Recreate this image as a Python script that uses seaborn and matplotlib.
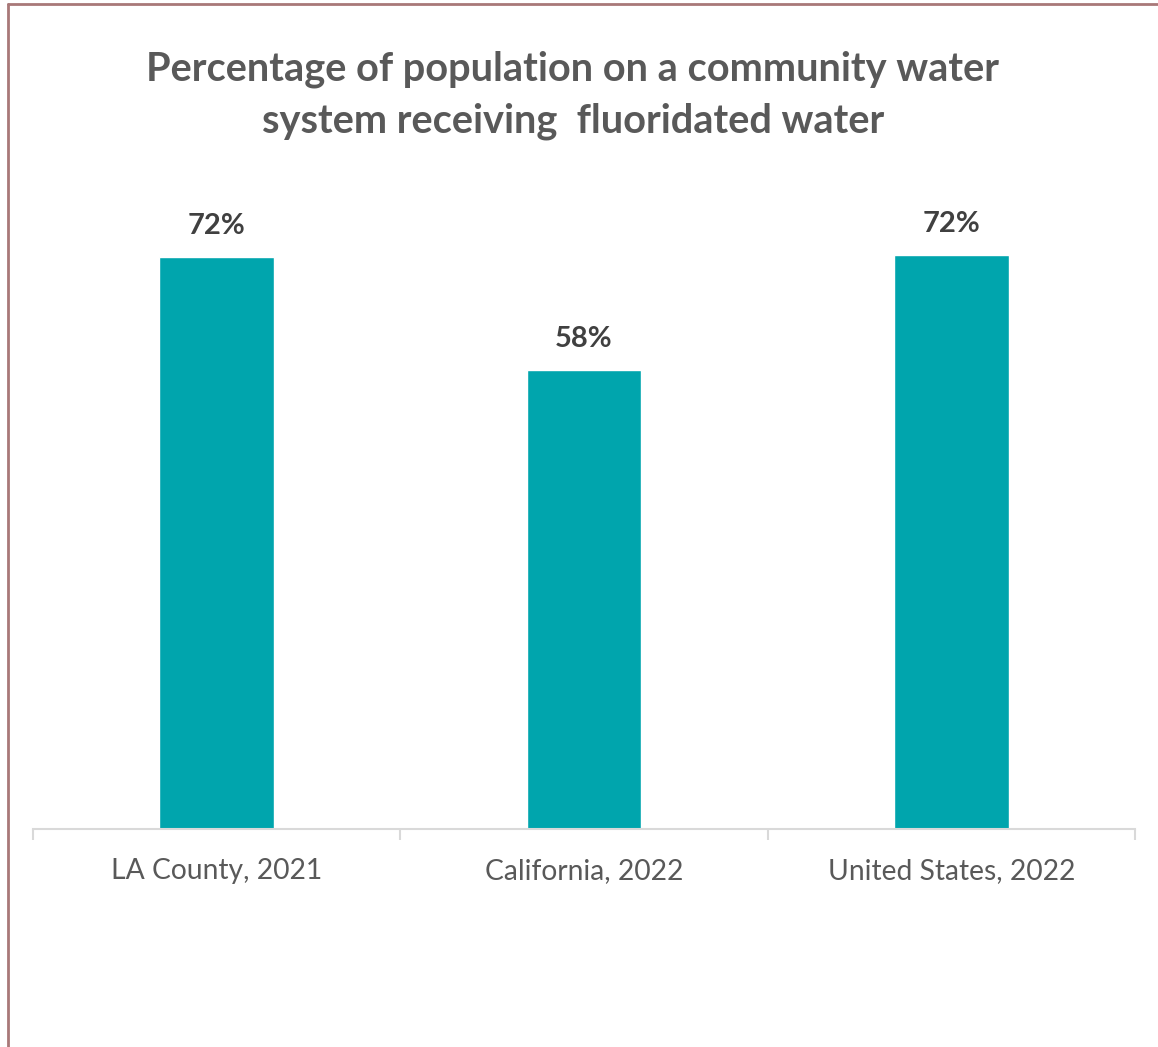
import matplotlib
matplotlib.use("agg")
import matplotlib.pyplot as plt
import pandas as pd
import seaborn as sns

# data
places = ["LA County, 2021", "California, 2022", "United States, 2022"]
pct = [71.8, 57.6, 72.1]
pct_labels = ["72%", "58%", "72%"]

TEAL = "#00a5ad"
TITLE_GREY = "#595959"
LABEL_GREY = "#404040"
AXIS_GREY = "#d9d9d9"
BORDER = "#a87878"

sns.set_theme(style="white")
plt.rcParams["font.family"] = ["Lato", "DejaVu Sans"]

df = pd.DataFrame({"place": places, "pct": pct})

fig = plt.figure(figsize=(11.58, 10.47), dpi=100)
ax = fig.add_axes([33 / 1158, 1 - 829 / 1047, (1135 - 33) / 1158, 637 / 1047])
sns.barplot(df, x="place", y="pct", color=TEAL, saturation=1, width=0.313, ax=ax)
ax.set_ylim(0, 80)
ax.set_xlim(-0.5, 2.5)

for i, (v, lab) in enumerate(zip(pct, pct_labels)):
    ax.annotate(lab, (i, v), xytext=(0, 13), textcoords="offset points",
                ha="center", va="bottom", fontsize=21, fontweight="bold", color=LABEL_GREY)

ax.set_xlabel("")
ax.set_ylabel("")
ax.set_yticks([])
for s in ("top", "right", "left"):
    ax.spines[s].set_visible(False)
ax.spines["bottom"].set_color(AXIS_GREY)
ax.spines["bottom"].set_linewidth(1.5)
ax.set_xticks([-0.5, 0.5, 1.5, 2.5], minor=True)
ax.tick_params(axis="x", which="minor", length=8, width=1.5, color=AXIS_GREY, bottom=True)
ax.tick_params(axis="x", which="major", length=0, labelsize=20.3, labelcolor=TITLE_GREY, pad=21)

fig.text(573 / 1158, 1 - 95 / 1047, "Percentage of population on a community water\nsystem receiving  fluoridated water",
         ha="center", va="center", fontsize=28.6, fontweight="bold", color=TITLE_GREY, linespacing=1.47)

# frame: only top and left edges show in the reference
fig.add_artist(plt.Line2D([8 / 1158, 8 / 1158], [0, 1 - 4 / 1047], transform=fig.transFigure, color=BORDER, lw=2))
fig.add_artist(plt.Line2D([8 / 1158, 1], [1 - 4 / 1047, 1 - 4 / 1047], transform=fig.transFigure, color=BORDER, lw=2))

fig.savefig("out.png", dpi=100, facecolor="white")
